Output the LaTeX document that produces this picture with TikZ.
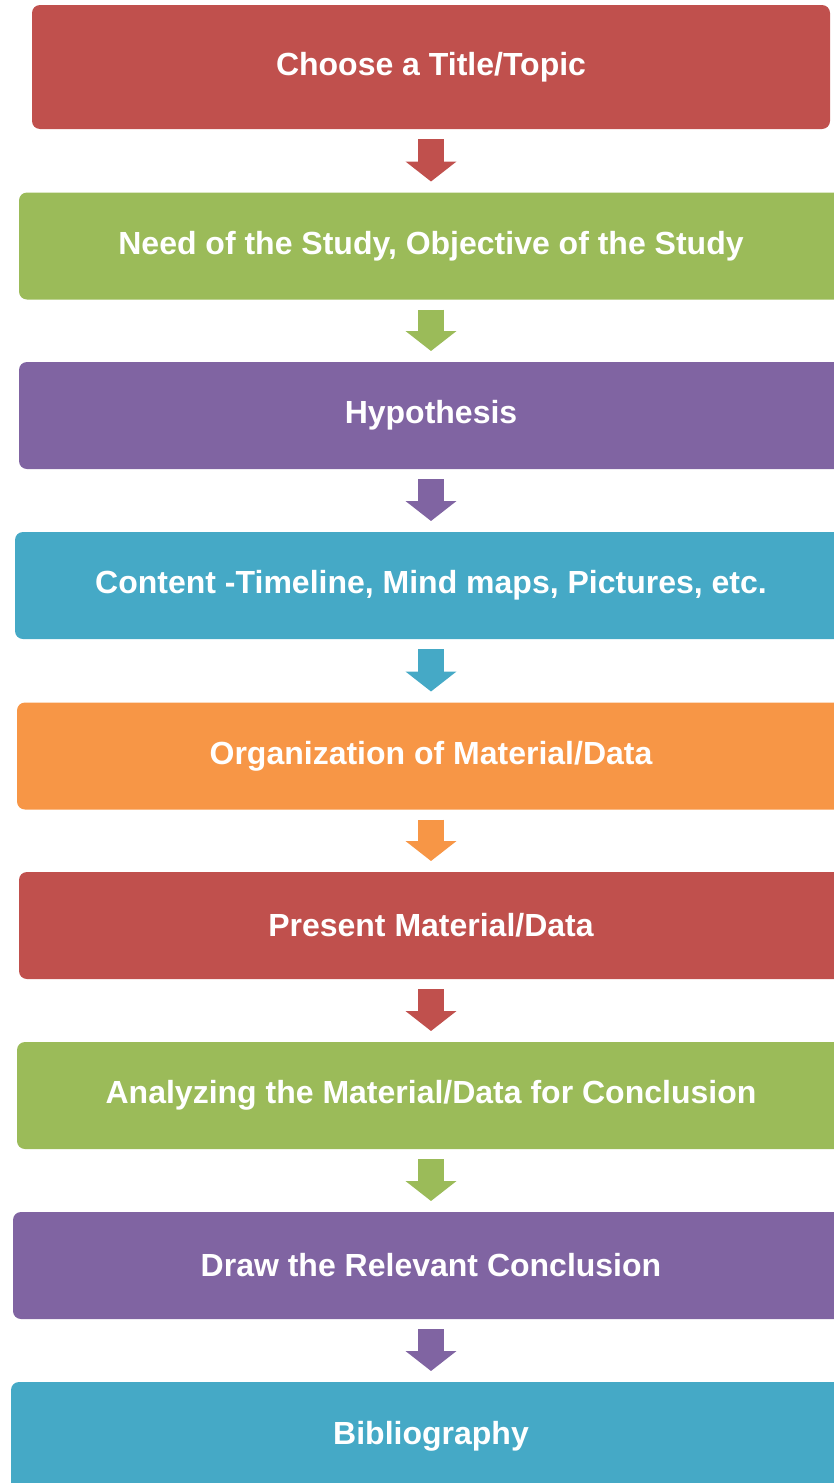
\documentclass[tikz,border=0pt]{standalone}
\usepackage{fontspec}
\setmainfont{Liberation Sans}
\usetikzlibrary{arrows.meta}
\definecolor{boxred}{HTML}{C0504D}
\definecolor{boxgreen}{HTML}{9BBB59}
\definecolor{boxpurple}{HTML}{8064A2}
\definecolor{boxblue}{HTML}{45A9C6}
\definecolor{boxorange}{HTML}{F79646}
\tikzset{
	stepbox/.style={rounded corners=8pt,inner sep=0,outer sep=0,text=white,font=\fontsize{32}{36}\selectfont\bfseries,minimum height=107pt},
	blockarrow/.style={draw=#1,line width=26pt,-{Triangle[width=50pt,length=20pt,fill=#1]}}
}
\begin{document}
\begin{tikzpicture}[x=1pt,y=-1pt]
	\clip (0,0) rectangle (834,1483);
	\node[stepbox,fill=boxred,minimum width=798pt,minimum height=124pt] (topic) at (431,67) {Choose a Title/Topic};
	\node[stepbox,fill=boxgreen,minimum width=824pt] (need) at (431,246) {Need of the Study, Objective of the Study};
	\node[stepbox,fill=boxpurple,minimum width=824pt] (hypo) at (431,415.5) {Hypothesis};
	\node[stepbox,fill=boxblue,minimum width=832pt] (content) at (431,585.5) {Content -Timeline, Mind maps, Pictures, etc.};
	\node[stepbox,fill=boxorange,minimum width=828pt] (organize) at (431,756) {Organization of Material/Data};
	\node[stepbox,fill=boxred,minimum width=824pt] (present) at (431,925.5) {Present Material/Data};
	\node[stepbox,fill=boxgreen,minimum width=828pt] (analyze) at (431,1095.5) {Analyzing the Material/Data for Conclusion};
	\node[stepbox,fill=boxpurple,minimum width=836pt] (conclude) at (431,1265.5) {Draw the Relevant Conclusion};
	\node[stepbox,fill=boxblue,minimum width=840pt,minimum height=108pt] (biblio) at (431,1436) {Bibliography};
	\draw[blockarrow=boxred] ([yshift=-10pt]topic.south) -- ([yshift=11pt]need.north);
	\draw[blockarrow=boxgreen] ([yshift=-10pt]need.south) -- ([yshift=11pt]hypo.north);
	\draw[blockarrow=boxpurple] ([yshift=-10pt]hypo.south) -- ([yshift=11pt]content.north);
	\draw[blockarrow=boxblue] ([yshift=-10pt]content.south) -- ([yshift=11pt]organize.north);
	\draw[blockarrow=boxorange] ([yshift=-10pt]organize.south) -- ([yshift=11pt]present.north);
	\draw[blockarrow=boxred] ([yshift=-10pt]present.south) -- ([yshift=11pt]analyze.north);
	\draw[blockarrow=boxgreen] ([yshift=-10pt]analyze.south) -- ([yshift=11pt]conclude.north);
	\draw[blockarrow=boxpurple] ([yshift=-10pt]conclude.south) -- ([yshift=11pt]biblio.north);
\end{tikzpicture}
\end{document}
